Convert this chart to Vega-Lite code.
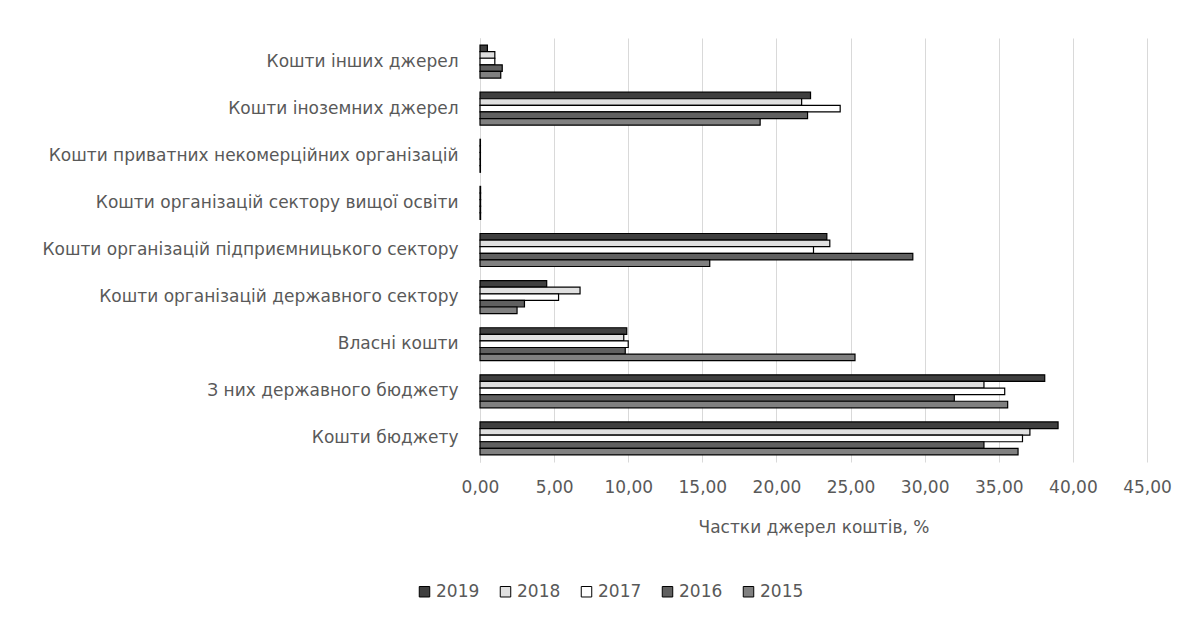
{
  "$schema": "https://vega.github.io/schema/vega-lite/v6.json",
  "autosize": {"type": "none"},
  "padding": {"left": 480, "top": 38, "right": 42, "bottom": 159},
  "width": 667,
  "height": 424,
  "background": "white",
  "config": {
    "font": "DejaVu Sans",
    "view": {"stroke": null},
    "axis": {"labelColor": "#595959", "titleColor": "#595959", "labelFont": "DejaVu Sans", "titleFont": "DejaVu Sans", "labelFontSize": 17, "titleFontSize": 17, "titleFontWeight": "normal"},
    "legend": {"labelColor": "#595959", "labelFont": "DejaVu Sans", "labelFontSize": 17}
  },
  "data": {
    "values": [
      {"source": "Кошти інших джерел", "year": "2019", "value": 0.5},
      {"source": "Кошти інших джерел", "year": "2018", "value": 1.0},
      {"source": "Кошти інших джерел", "year": "2017", "value": 1.0},
      {"source": "Кошти інших джерел", "year": "2016", "value": 1.5},
      {"source": "Кошти інших джерел", "year": "2015", "value": 1.4},
      {"source": "Кошти іноземних джерел", "year": "2019", "value": 22.3},
      {"source": "Кошти іноземних джерел", "year": "2018", "value": 21.7},
      {"source": "Кошти іноземних джерел", "year": "2017", "value": 24.3},
      {"source": "Кошти іноземних джерел", "year": "2016", "value": 22.1},
      {"source": "Кошти іноземних джерел", "year": "2015", "value": 18.9},
      {"source": "Кошти приватних некомерційних організацій", "year": "2019", "value": 0.03},
      {"source": "Кошти приватних некомерційних організацій", "year": "2018", "value": 0.03},
      {"source": "Кошти приватних некомерційних організацій", "year": "2017", "value": 0.03},
      {"source": "Кошти приватних некомерційних організацій", "year": "2016", "value": 0.03},
      {"source": "Кошти приватних некомерційних організацій", "year": "2015", "value": 0.03},
      {"source": "Кошти організацій сектору вищої освіти ", "year": "2019", "value": 0.04},
      {"source": "Кошти організацій сектору вищої освіти ", "year": "2018", "value": 0.04},
      {"source": "Кошти організацій сектору вищої освіти ", "year": "2017", "value": 0.04},
      {"source": "Кошти організацій сектору вищої освіти ", "year": "2016", "value": 0.04},
      {"source": "Кошти організацій сектору вищої освіти ", "year": "2015", "value": 0.04},
      {"source": "Кошти організацій підприємницького сектору", "year": "2019", "value": 23.4},
      {"source": "Кошти організацій підприємницького сектору", "year": "2018", "value": 23.6},
      {"source": "Кошти організацій підприємницького сектору", "year": "2017", "value": 22.5},
      {"source": "Кошти організацій підприємницького сектору", "year": "2016", "value": 29.2},
      {"source": "Кошти організацій підприємницького сектору", "year": "2015", "value": 15.5},
      {"source": "Кошти організацій державного сектору", "year": "2019", "value": 4.5},
      {"source": "Кошти організацій державного сектору", "year": "2018", "value": 6.75},
      {"source": "Кошти організацій державного сектору", "year": "2017", "value": 5.3},
      {"source": "Кошти організацій державного сектору", "year": "2016", "value": 3.0},
      {"source": "Кошти організацій державного сектору", "year": "2015", "value": 2.5},
      {"source": "Власні кошти", "year": "2019", "value": 9.9},
      {"source": "Власні кошти", "year": "2018", "value": 9.7},
      {"source": "Власні кошти", "year": "2017", "value": 10.0},
      {"source": "Власні кошти", "year": "2016", "value": 9.8},
      {"source": "Власні кошти", "year": "2015", "value": 25.3},
      {"source": "З них державного бюджету", "year": "2019", "value": 38.1},
      {"source": "З них державного бюджету", "year": "2018", "value": 34.0},
      {"source": "З них державного бюджету", "year": "2017", "value": 35.4},
      {"source": "З них державного бюджету", "year": "2016", "value": 32.0},
      {"source": "З них державного бюджету", "year": "2015", "value": 35.6},
      {"source": "Кошти бюджету", "year": "2019", "value": 39.0},
      {"source": "Кошти бюджету", "year": "2018", "value": 37.1},
      {"source": "Кошти бюджету", "year": "2017", "value": 36.6},
      {"source": "Кошти бюджету", "year": "2016", "value": 34.0},
      {"source": "Кошти бюджету", "year": "2015", "value": 36.3}
    ]
  },
  "mark": {"type": "bar", "stroke": "black", "strokeWidth": 1.2},
  "encoding": {
    "y": {
      "field": "source", "type": "nominal", "sort": null,
      "scale": {"paddingInner": 0.3, "paddingOuter": 0.15},
      "axis": {"title": null, "ticks": false, "domainColor": "#d9d9d9", "labelPadding": 22, "labelLimit": 470, "grid": false}
    },
    "yOffset": {
      "field": "year", "type": "nominal",
      "scale": {"domain": ["2019", "2018", "2017", "2016", "2015"], "paddingInner": 0, "paddingOuter": 0}
    },
    "x": {
      "field": "value", "type": "quantitative",
      "scale": {"domain": [0, 45], "nice": false},
      "axis": {"title": "Частки джерел коштів, %", "values": [0, 5, 10, 15, 20, 25, 30, 35, 40, 45], "labelExpr": "replace(format(datum.value, '.2f'), '.', ',')", "labelFlush": false, "domain": false, "ticks": false, "gridColor": "#d9d9d9", "labelPadding": 17, "titlePadding": 24}
    },
    "fill": {
      "field": "year", "type": "nominal",
      "scale": {"domain": ["2019", "2018", "2017", "2016", "2015"], "range": ["#3f3f3f", "#e0e0e0", "#ffffff", "#606060", "#808080"]},
      "legend": {"title": null, "orient": "none", "direction": "horizontal", "legendX": -64, "legendY": 545, "symbolType": "square", "symbolStrokeColor": "black", "symbolStrokeWidth": 1, "symbolSize": 110, "columnPadding": 17, "labelOffset": 3}
    }
  }
}
